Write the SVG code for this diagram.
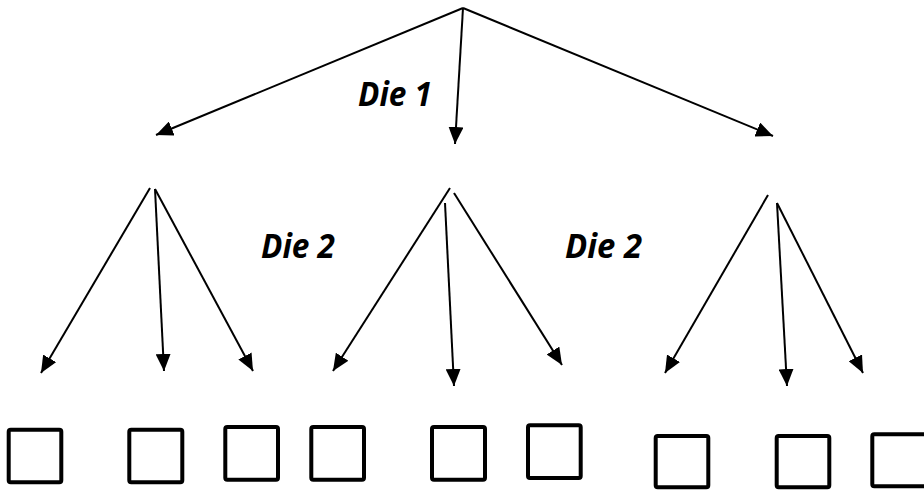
<svg xmlns="http://www.w3.org/2000/svg" width="924" height="491" viewBox="0 0 924 491">
  <style>
    .edge { stroke: #000; stroke-width: 2; fill: none; marker-end: url(#arrow); }
    .box { fill: #fff; stroke: #000; stroke-width: 4; }
    .label { font-family: "Open Sans", "Liberation Sans", sans-serif; font-weight: bold; font-style: italic; font-size: 34px; fill: #000; }
  </style>
  <defs>
    <marker id="arrow" markerUnits="userSpaceOnUse" markerWidth="17" markerHeight="15" refX="17" refY="7.5" orient="auto">
      <path d="M0,0 L17,7.5 L0,15 z" fill="#000"/>
    </marker>
  </defs>
  <rect width="924" height="491" fill="#fff"/>

  <!-- connectors: first roll, then second roll from each outcome -->
  <g id="connectors">
    <line class="edge" x1="463" y1="8" x2="156" y2="135"/>
    <line class="edge" x1="463" y1="8" x2="455" y2="144"/>
    <line class="edge" x1="463" y1="8" x2="773" y2="136"/>

    <line class="edge" x1="150" y1="188" x2="41" y2="373"/>
    <line class="edge" x1="155" y1="189" x2="164" y2="371"/>
    <line class="edge" x1="155" y1="189" x2="253" y2="371"/>

    <line class="edge" x1="450" y1="188" x2="333" y2="371"/>
    <line class="edge" x1="445" y1="203" x2="454" y2="386"/>
    <line class="edge" x1="454" y1="193" x2="562" y2="365"/>

    <line class="edge" x1="768" y1="195" x2="665" y2="373"/>
    <line class="edge" x1="777" y1="203" x2="787" y2="386"/>
    <line class="edge" x1="777" y1="203" x2="863" y2="373"/>
  </g>

  <!-- labels -->
  <g id="label-die1"><text class="label" x="358" y="106" textLength="74" lengthAdjust="spacingAndGlyphs">Die 1</text></g>
  <g id="label-die2a"><text class="label" x="261" y="258" textLength="74" lengthAdjust="spacingAndGlyphs">Die 2</text></g>
  <g id="label-die2b"><text class="label" x="565" y="258" textLength="77" lengthAdjust="spacingAndGlyphs">Die 2</text></g>

  <!-- outcome boxes -->
  <g id="box1"><rect class="box" x="8.7" y="429.7" width="52.6" height="52.6" rx="2"/></g>
  <g id="box2"><rect class="box" x="129.3" y="429.7" width="53" height="52.6" rx="2"/></g>
  <g id="box3"><rect class="box" x="225.3" y="427" width="52.7" height="52.7" rx="2"/></g>
  <g id="box4"><rect class="box" x="311.3" y="427" width="52.7" height="52.7" rx="2"/></g>
  <g id="box5"><rect class="box" x="432" y="427" width="53" height="52.7" rx="2"/></g>
  <g id="box6"><rect class="box" x="528" y="425.3" width="52.7" height="52.7" rx="2"/></g>
  <g id="box7"><rect class="box" x="655.7" y="436" width="52.6" height="51.3" rx="2"/></g>
  <g id="box8"><rect class="box" x="776.7" y="436" width="52.6" height="51.3" rx="2"/></g>
  <g id="box9"><rect class="box" x="872.3" y="434.3" width="56" height="52" rx="2"/></g>
</svg>
